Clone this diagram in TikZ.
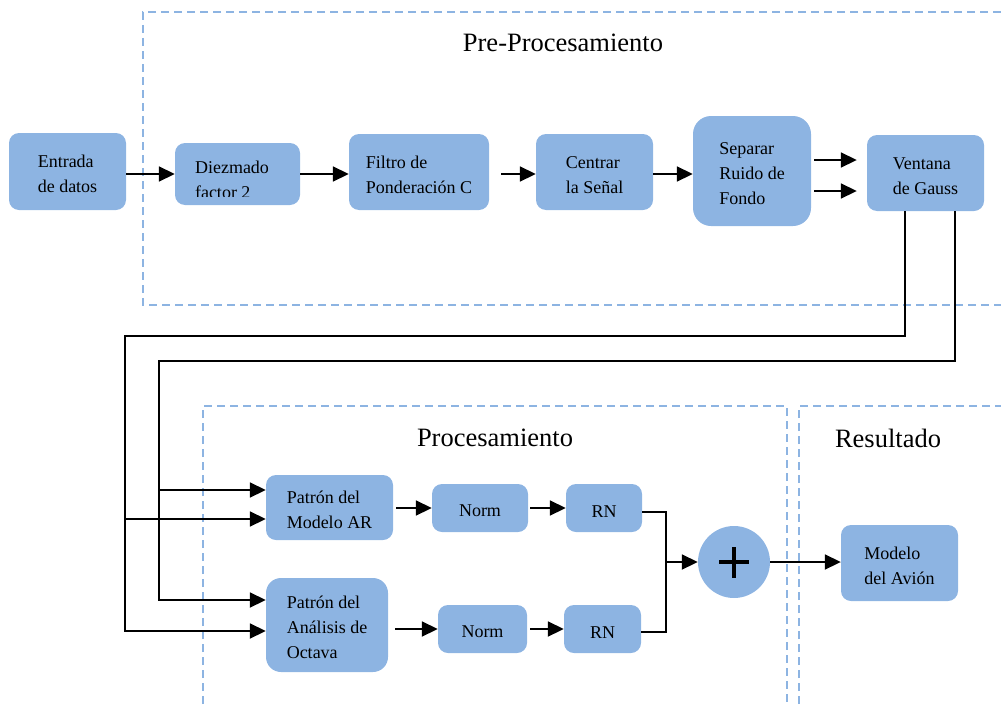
\documentclass[tikz,border=0pt]{standalone}
\usepackage{fontspec}
\setmainfont{Liberation Serif}
\usetikzlibrary{arrows.meta}
\definecolor{bfill}{RGB}{141,180,226}
\definecolor{dashc}{RGB}{141,180,226}
\newcommand{\tstrut}{\rule{0pt}{18pt}}
\begin{document}
\begin{tikzpicture}[x=1pt,y=-1pt,
  box/.style={fill=bfill, rounded corners=10pt, align=left, inner sep=0pt, font=\fontsize{18}{25}\selectfont},
  ttl/.style={font=\fontsize{26.5}{30}\selectfont, inner sep=0pt},
  ln/.style={line width=1.8pt, black},
  arr/.style={ln, -{Triangle[length=16pt,width=15pt]}},
  frame/.style={dashc, line width=1.5pt, dash pattern=on 8pt off 5pt}]
\useasboundingbox (0,0) rectangle (1001,704);

% frames
\draw[frame] (1001,12) -- (143,12) -- (143,305) -- (1001,305);
\draw[frame] (203,704) -- (203,406) -- (787,406) -- (787,704);
\draw[frame] (799,704) -- (799,406) -- (1001,406);

% titles
\node[ttl] (tpre) at (563,43) {Pre-Procesamiento};
\node[ttl] (tpro) at (495,438) {Procesamiento};
\node[ttl] (tres) at (888,438) {Resultado};

% top row
\node[box, minimum width=117pt, minimum height=77pt] (en) at (67.5,171.5) {\tstrut Entrada\\de datos};
\node[box, minimum width=125pt, minimum height=62pt] (dz) at (237.5,174) {};
\begin{scope}
  \clip (175,143) rectangle (300,196);
  \node[box, fill=none] (dzt) at (232,180) {Diezmado\\factor 2};
\end{scope}
\node[box, minimum width=140pt, minimum height=76pt] (fi) at (419,172) {\tstrut Filtro de\\Ponderación C};
\node[box, minimum width=117pt, minimum height=76pt] (ce) at (594.5,172) {\tstrut Centrar\\la Señal};
\node[box, rounded corners=18pt, minimum width=118pt, minimum height=110pt] (sp) at (752,171) {\tstrut Separar\\Ruido de\\Fondo};
\node[box, minimum width=117pt, minimum height=76pt] (vg) at (925.5,173) {\tstrut Ventana\\de Gauss};

% bottom
\node[box, minimum width=127pt, minimum height=65pt] (ar) at (329.5,507.5) {\tstrut Patrón del\\Modelo AR};
\node[box, minimum width=96pt, minimum height=48pt] (n1) at (480,508) {\tstrut Norm};
\node[box, minimum width=76pt, minimum height=48pt] (r1) at (604,508) {\tstrut RN};
\node[box, rounded corners=15pt, minimum width=122pt, minimum height=94pt] (oc) at (327,625) {\tstrut Patrón del\\Análisis de\\Octava};
\node[box, minimum width=89pt, minimum height=48pt] (n2) at (482.5,629) {\tstrut Norm};
\node[box, minimum width=77pt, minimum height=48pt] (r2) at (602.5,629) {\tstrut RN};
\node[circle, fill=bfill, minimum size=72pt, inner sep=0pt] (pl) at (734,562) {};
\draw[line width=4.2pt] ([xshift=-15pt]pl.center) -- ([xshift=15pt]pl.center);
\draw[line width=4.2pt] ([yshift=-15.5pt]pl.center) -- ([yshift=15.5pt]pl.center);
\node[box, minimum width=117pt, minimum height=76pt] (mo) at (899.5,563) {\tstrut Modelo\\del Avión};

% top connectors
\draw[arr] (en.east |- dz.west) -- (dz.west);
\draw[arr] (dz.east) -- (dz.east -| fi.west);
\draw[arr] ([xshift=12pt,yshift=-2pt]fi.east) -- ([yshift=-2pt]ce.west);
\draw[arr] ([yshift=-2pt]ce.east) -- ([yshift=-3pt]sp.west);
\draw[arr] ([xshift=3pt,yshift=11pt]sp.east) -- ([xshift=-10pt,yshift=13pt]vg.west);
\draw[arr] ([xshift=3pt,yshift=-20pt]sp.east) -- ([xshift=-10pt,yshift=-18pt]vg.west);

% feedback lines
\coordinate (ar1) at ([yshift=17.5pt]ar.west);
\coordinate (ar2) at ([yshift=-11.5pt]ar.west);
\coordinate (oc1) at ([yshift=25pt]oc.west);
\coordinate (oc2) at ([yshift=-6pt]oc.west);
\coordinate (k1) at (125,336);
\coordinate (k2) at (159,361);
\draw[arr] ([xshift=-20.5pt]vg.south) |- (k1) |- (oc2);
\draw[arr] (k1 |- ar2) -- (ar2);
\draw[arr] ([xshift=29.5pt]vg.south) |- (k2) |- (oc1);
\draw[arr] (k2 |- ar1) -- (ar1);

% processing connectors
\draw[arr] ([xshift=3pt]ar.east |- n1.west) -- (n1.west);
\draw[arr] ([xshift=2pt]n1.east) -- (r1.west);
\draw[arr] ([xshift=7pt,yshift=-4pt]oc.east) -- (n2.west);
\draw[arr] ([xshift=3pt]n2.east) -- (r2.west);
\coordinate (m) at (666,562);
\draw[ln] ([yshift=-4pt]r1.east) -| (m);
\draw[ln] ([yshift=-3pt]r2.east) -| (m);
\draw[arr] (m) -- (pl.west);
\draw[arr] (pl.east) -- (pl.east -| mo.west);
\end{tikzpicture}
\end{document}
